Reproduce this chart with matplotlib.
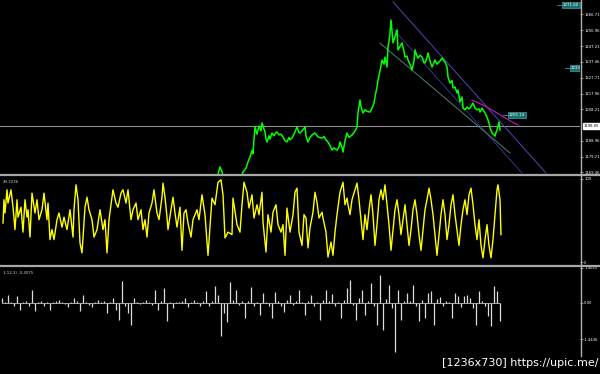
import matplotlib
matplotlib.use("Agg")
import matplotlib.pyplot as plt
from matplotlib.lines import Line2D
import matplotlib.transforms as mtransforms

# ---------------- data ----------------
price_x = [205, 212, 217, 220, 222, 225, 232, 238, 243, 246, 248, 250, 252, 253, 254, 255, 257, 259, 261, 262,
           264, 265, 266, 267, 269, 270, 272, 274, 276, 277, 279, 281, 283, 285, 287, 289, 290, 292, 294, 296,
           297, 299, 300, 302, 304, 305, 306, 308, 310, 312, 315, 317, 319, 322, 324, 326, 328, 330, 332, 334,
           337, 339, 340, 342, 343, 345, 347, 349, 352, 354, 356, 357, 358, 360, 361, 363, 365, 367, 370, 372,
           374, 375, 377, 378, 380, 382, 384, 385, 387, 388, 389, 390, 391, 392, 393, 394, 395, 396, 397, 398,
           400, 402, 404, 405, 407, 408, 410, 412, 414, 415, 417, 418, 420, 422, 424, 425, 427, 428, 430, 432,
           434, 435, 437, 438, 440, 442, 444, 445, 447, 448, 450, 452, 453, 455, 457, 458, 460, 462, 463, 465,
           467, 469, 470, 472, 473, 475, 477, 479, 480, 482, 483, 485, 487, 489, 490, 492, 494, 495, 496, 497,
           498, 499, 500]
price_close = [1160, 1163, 1166, 1172.8, 1170, 1162, 1158, 1162, 1169.7, 1172, 1176, 1179, 1183, 1181, 1190, 1197.4, 1193, 1198, 1195, 1199.9,
               1196, 1194.3, 1190, 1188.2, 1192, 1190, 1193.7, 1192, 1194, 1194.3, 1192.5, 1193, 1191.2, 1189, 1188.2, 1191, 1189.5, 1190.6, 1193, 1196,
               1197.4, 1194, 1193.7, 1195, 1196.5, 1197.4, 1192, 1188.2, 1191, 1192.5, 1193.7, 1192, 1191, 1190.6, 1191.5, 1189.5, 1188.2, 1186, 1183.2, 1184.5,
               1183.2, 1185, 1188.2, 1185, 1182.0, 1189, 1193.7, 1191, 1192.5, 1194, 1196, 1197.4, 1206.0, 1214.0, 1210, 1206.0, 1208, 1207, 1206.6, 1209,
               1212, 1215.9, 1222, 1226.3, 1232, 1238.6, 1236, 1240.4, 1234.3, 1246.6, 1250, 1255.2, 1263.2, 1256, 1249.1, 1251, 1252.8, 1255, 1257.1, 1244.8,
               1247, 1249.1, 1244, 1240.4, 1241, 1238.6, 1236, 1232.4, 1238, 1244.8, 1241, 1239.8, 1241.5, 1240.4, 1237, 1236.8, 1240, 1242.9, 1238, 1234.3,
               1237, 1238.6, 1236, 1236.8, 1238, 1239.8, 1238, 1237.4, 1234.3, 1228.2, 1224.4, 1226, 1221.4, 1222, 1218.3, 1220.2, 1212.8, 1215.9, 1209.1, 1208,
               1209.7, 1208.5, 1209.1, 1211, 1212.2, 1209, 1207.9, 1208.5, 1206.6, 1209, 1207.9, 1206, 1203.5, 1199.9, 1197, 1193.7, 1192.5, 1191.8, 1194, 1195.5,
               1198, 1200.5, 1195.5]

# trend / channel lines (bar, price)
upper_x = [393, 546]
upper_p = [1274.3, 1169.1]
parallel_x = [393, 522]
parallel_p = [1257.8, 1169.1]
support_x = [380, 510]
support_p = [1249.0, 1181.4]
ma_x = [472, 485, 497, 507, 518]
ma_p = [1214.0, 1210.3, 1206.0, 1202.3, 1198.6]
hline_price = 1198.05

main_ticks = [1266.71, 1256.96, 1247.21, 1237.46, 1227.71, 1217.96, 1208.21, 1188.96, 1179.21, 1169.46]

osc_x = [3, 4, 5, 7, 8, 11, 13, 15, 17, 18, 21, 23, 25, 27, 28, 30, 32, 35, 37, 39,
         42, 44, 47, 48, 50, 52, 54, 57, 59, 62, 64, 67, 70, 73, 74, 76, 78, 80, 82, 83,
         85, 87, 89, 92, 94, 97, 100, 103, 105, 107, 109, 112, 113, 116, 118, 121, 123, 126, 128, 131,
         133, 136, 138, 141, 143, 145, 147, 149, 152, 154, 157, 159, 162, 163, 165, 167, 168, 171, 173, 175,
         177, 180, 182, 184, 186, 188, 191, 193, 197, 199, 202, 205, 208, 212, 215, 218, 221, 223, 225, 228,
         232, 233, 237, 240, 242, 244, 247, 249, 252, 254, 257, 259, 262, 263, 266, 268, 271, 273, 276, 278,
         281, 283, 285, 287, 290, 293, 295, 297, 299, 302, 304, 306, 308, 310, 313, 315, 317, 319, 322, 323,
         326, 328, 331, 333, 335, 337, 340, 343, 345, 347, 348, 350, 352, 355, 357, 359, 361, 363, 365, 367,
         369, 371, 373, 375, 377, 379, 381, 383, 385, 387, 389, 391, 393, 395, 397, 399, 401, 403, 405, 407,
         409, 411, 413, 415, 417, 419, 421, 423, 425, 427, 429, 431, 433, 435, 437, 439, 441, 443, 445, 447,
         449, 451, 453, 455, 457, 459, 461, 463, 465, 467, 469, 471, 473, 475, 477, 479, 481, 483, 485, 487,
         489, 491, 493, 495, 497, 498, 500, 501]
osc_val = [47, 75, 59, 87, 71, 87, 66, 39, 75, 54, 66, 36, 75, 54, 63, 30, 83, 59, 75, 51,
           63, 83, 51, 71, 27, 39, 27, 51, 59, 42, 54, 39, 63, 30, 63, 93, 75, 23, 11, 30,
           66, 78, 63, 51, 30, 39, 63, 39, 51, 11, 51, 78, 87, 71, 66, 83, 87, 71, 87, 51,
           63, 71, 51, 63, 39, 51, 30, 59, 71, 87, 59, 51, 78, 95, 78, 54, 39, 63, 78, 59,
           42, 66, 14, 59, 63, 47, 30, 51, 63, 51, 81, 57, 8, 77, 69, 96, 99, 81, 29, 36,
           33, 77, 45, 36, 69, 96, 84, 65, 81, 53, 69, 57, 84, 48, 12, 57, 36, 60, 69, 45,
           36, 45, 8, 65, 36, 57, 84, 89, 36, 20, 57, 53, 17, 41, 60, 84, 72, 53, 60, 53,
           36, 6, 24, 8, 36, 57, 84, 96, 69, 77, 69, 57, 75, 87, 95, 75, 51, 27, 57, 39,
           63, 81, 57, 20, 45, 75, 87, 75, 93, 69, 45, 14, 39, 63, 75, 57, 33, 51, 69, 45,
           20, 39, 63, 75, 57, 33, 14, 39, 63, 75, 89, 75, 57, 33, 8, 33, 57, 75, 57, 27,
           45, 69, 81, 57, 39, 20, 45, 63, 75, 57, 81, 89, 69, 45, 27, 51, 20, 5, 27, 45,
           20, 5, 27, 57, 87, 93, 75, 33]
osc_ticks = [100, 0]
osc_title = "49.3236"

hist_start, hist_step = 2, 3
hist_val = [0.20, 0.05, 0.33, 0.05, -0.13, 0.28, -0.27, 0.04, 0.08, -0.12,
            0.53, -0.33, 0.06, 0.08, -0.12, 0.05, -0.28, 0.04, 0.08, 0.12,
            0.06, -0.05, -0.16, 0.05, 0.20, 0.08, -0.33, 0.32, 0.04, -0.08,
            -0.15, 0.06, 0.12, 0.05, 0.07, -0.40, 0.06, 0.20, -0.28, -0.67,
            0.87, -0.12, -0.40, -0.87, 0.20, 0.04, -0.05, 0.06, 0.12, 0.05,
            -0.06, 0.53, -0.28, 0.08, 0.60, -0.73, 0.06, -0.20, 0.05, 0.04,
            0.10, 0.20, -0.16, 0.05, 0.12, 0.06, -0.10, 0.08, 0.50, -0.12,
            0.10, 0.70, 0.32, -1.30, -0.40, -0.76, 0.85, 0.12, 0.52, -0.08,
            0.10, -0.60, 0.08, 0.64, -0.12, 0.06, -0.48, 0.40, 0.05, -0.12,
            -0.60, 0.44, 0.08, -0.10, -0.36, 0.12, 0.32, -0.06, 0.10, 0.52,
            0.06, -0.48, 0.08, 0.32, -0.10, 0.06, -0.68, 0.12, 0.52, 0.08,
            0.36, -0.10, 0.05, -0.60, 0.12, 0.60, 0.92, -0.08, -0.68, 0.20,
            0.52, -0.48, 0.10, 0.80, -0.12, -0.88, 1.12, -1.08, 0.16, 0.72,
            -0.20, -1.96, 0.52, -0.68, 0.08, 0.40, 0.10, 0.72, -0.10, -0.72,
            0.12, -0.60, 0.40, 0.48, -0.88, 0.16, 0.24, -0.12, 0.10, 0.06,
            -0.60, 0.40, 0.28, -0.16, 0.28, 0.32, 0.20, -0.20, -0.88, 0.48,
            0.08, -0.10, -0.52, -0.92, 0.68, 0.48, -0.72]
hist_ticks = [1.4025, 0.0, -1.4436]
hist_tick_labels = ["1.4025", "0.00", "-1.4436"]
hist_title = "3,12,3) -0.4075"

# ---------------- figure ----------------
W, H = 600, 374
fig = plt.figure(figsize=(6.0, 3.74), dpi=100, facecolor="black")

def fy(py):
    return 1 - py / H

XR = 580.0 / W
XMAX = 580

def make_ax(top_px, bot_px):
    ax = fig.add_axes([0, fy(bot_px), XR, fy(top_px) - fy(bot_px)], facecolor="black")
    for s in ax.spines.values():
        s.set_visible(False)
    ax.set_xlim(0, XMAX)
    ax.set_xticks([])
    ax.yaxis.tick_right()
    ax.tick_params(axis="y", colors="#c0c0c0", labelcolor="white", labelsize=2.7,
                   length=2, width=0.5, pad=1)
    return ax

ax_main = make_ax(0, 174)
ax_osc = make_ax(176, 265)
ax_hist = make_ax(267, 356)

# main price panel
ax_main.set_ylim(1168.5, 1275.5)
ax_main.set_yticks(main_ticks)
ax_main.set_yticklabels([f"{t:.2f}" for t in main_ticks])
ax_main.axhline(hline_price, color="#909090", lw=0.8)
ax_main.plot(upper_x, upper_p, color="#4b4bb8", lw=0.7)
ax_main.plot(parallel_x, parallel_p, color="#34348c", lw=0.7)
ax_main.plot(support_x, support_p, color="#4f7f74", lw=0.7)
ax_main.plot(ma_x, ma_p, color="#c21bc2", lw=0.8)
ax_main.plot(price_x, price_close, color="#00ff00", lw=1.1)

box = dict(boxstyle="square,pad=0.25", facecolor="#1d6f6f", edgecolor="#3fbfbf", lw=0.4)
ax_main.text(509, 1204.6, "1205.14", fontsize=2.8, color="white", va="center", ha="left", bbox=box)
ax_main.plot([503, 508], [1204.6, 1204.6], color="#3fbfbf", lw=0.5)
ax_main.text(563, 1272.7, "1271.60", fontsize=2.8, color="white", va="center", ha="left", bbox=box)
ax_main.plot([557, 562], [1272.7, 1272.7], color="#3fbfbf", lw=0.5)
ax_main.text(571, 1233.8, "1233.70", fontsize=2.8, color="white", va="center", ha="left",
             bbox=box, clip_on=True)
ax_main.plot([565, 570], [1233.8, 1233.8], color="#3fbfbf", lw=0.5)

trans = mtransforms.blended_transform_factory(ax_main.transAxes, ax_main.transData)
ax_main.text(1.006, hline_price, f"{hline_price:.2f}", transform=trans, fontsize=2.7,
             color="black", va="center", ha="left",
             bbox=dict(boxstyle="square,pad=0.2", facecolor="white", edgecolor="white"))

# oscillator panel
ax_osc.set_ylim(-3.6, 103.6)
ax_osc.set_yticks(osc_ticks)
ax_osc.set_yticklabels([str(v) for v in osc_ticks])
ax_osc.plot(osc_x, osc_val, color="#ffff00", lw=1.0)
ax_osc.text(0.005, 0.96, osc_title, transform=ax_osc.transAxes, fontsize=2.8,
            color="#d0d0d0", va="top", ha="left")

# histogram panel
hist_x = [hist_start + i * hist_step for i in range(len(hist_val))]
ax_hist.set_ylim(-2.12, 1.44)
ax_hist.set_yticks(hist_ticks)
ax_hist.set_yticklabels(hist_tick_labels)
ax_hist.vlines(hist_x, 0, hist_val, colors="#dcdcdc", lw=0.9)
ax_hist.hlines(0, hist_x[0], hist_x[-1], colors="#bfbfbf", lw=0.6)
ax_hist.text(0.005, 0.96, hist_title, transform=ax_hist.transAxes, fontsize=2.8,
             color="#d0d0d0", va="top", ha="left")

# separators and right axis
for py in (175, 266):
    fig.add_artist(Line2D([0, 1], [fy(py), fy(py)], transform=fig.transFigure,
                          color="#a8a8a8", lw=1.6))
fig.add_artist(Line2D([580.5 / W, 580.5 / W], [1, fy(356)], transform=fig.transFigure,
                      color="#b0b0b0", lw=1.0))

fig.text(0.997, 0.015, "[1236x730] https://upic.me/", ha="right", va="bottom",
         color="white", fontsize=8)

fig.savefig("out.png", dpi=100, facecolor="black")
